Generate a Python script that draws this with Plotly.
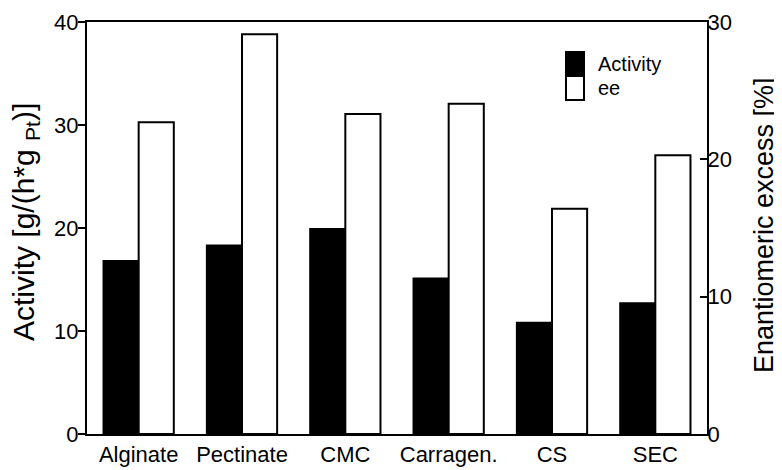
import plotly.graph_objects as go

categories = ["Alginate", "Pectinate", "CMC", "Carragen.", "CS", "SEC"]
activity = [16.8, 18.3, 19.9, 15.1, 10.8, 12.7]
ee = [22.7, 29.1, 23.3, 24.05, 16.4, 20.3]
left_ticks = [0, 10, 20, 30, 40]
right_ticks = [0, 10, 20, 30]
legend_names = ["Activity", "ee"]

FONT = "Liberation Sans, Arial, sans-serif"

# The page body has an 8px default margin, so the figure is sized to end at
# the window edge and positions below are given in window pixels.
OFF = 8
W, H = 782 - OFF, 470 - OFF
L, R, T, B = 87 - OFF, 75, 22 - OFF, 36
PW, PH = W - L - R, H - T - B

fig = go.Figure()
fig.add_trace(go.Bar(
    x=categories, y=activity, name=legend_names[0], offsetgroup="a",
    marker=dict(color="black", line=dict(color="black", width=2)),
    yaxis="y",
))
fig.add_trace(go.Bar(
    x=categories, y=ee, name=legend_names[1], offsetgroup="b",
    marker=dict(color="white", line=dict(color="black", width=2)),
    yaxis="y2",
))


def px(xw):
    return (xw - OFF - L) / PW


def py(yw):
    return (OFF + H - B - yw) / PH


shapes = [
    dict(type="rect", xref="paper", yref="paper",
         x0=px(566), x1=px(584), y0=py(76), y1=py(52),
         fillcolor="black", line=dict(color="black", width=2)),
    dict(type="rect", xref="paper", yref="paper",
         x0=px(566), x1=px(584), y0=py(100), y1=py(76),
         fillcolor="white", line=dict(color="black", width=2)),
]

annotations = [
    dict(text="Activity [g/(h*g <sub>Pt</sub>)]", textangle=-90,
         xref="paper", yref="paper", x=px(25), y=py(222),
         xanchor="center", yanchor="middle", showarrow=False,
         font=dict(size=30, family=FONT, color="black")),
    dict(text="Enantiomeric excess [%]", textangle=-90,
         xref="paper", yref="paper", x=px(764), y=py(225),
         xanchor="center", yanchor="middle", showarrow=False,
         font=dict(size=27, family=FONT, color="black")),
    dict(text=legend_names[0], xref="paper", yref="paper",
         x=px(596), y=py(64), xanchor="left", yanchor="middle",
         showarrow=False, font=dict(size=20, family=FONT, color="black")),
    dict(text=legend_names[1], xref="paper", yref="paper",
         x=px(596), y=py(88), xanchor="left", yanchor="middle",
         showarrow=False, font=dict(size=20, family=FONT, color="black")),
]

fig.update_layout(
    template="none",
    width=W, height=H,
    margin=dict(l=L, r=R, t=T, b=B, pad=0),
    paper_bgcolor="white", plot_bgcolor="white",
    barmode="group", bargap=0.32, bargroupgap=0,
    font=dict(family=FONT, color="black"),
    showlegend=False,
    xaxis=dict(
        showline=True, linecolor="black", linewidth=2, mirror=True,
        ticks="", showgrid=False, tickfont=dict(size=22, family=FONT),
        zeroline=False, automargin=False,
    ),
    yaxis=dict(
        range=[0, 40], tickvals=left_ticks, showline=True, linecolor="black",
        linewidth=2, ticks="outside", ticklen=7, tickwidth=2, tickcolor="black",
        showgrid=False, zeroline=False, tickfont=dict(size=22, family=FONT),
        automargin=False, ticklabelstandoff=-5,
    ),
    yaxis2=dict(
        range=[0, 30], tickvals=right_ticks, overlaying="y", side="right",
        showline=True, linecolor="black", linewidth=2, ticks="inside",
        ticklen=7, tickwidth=2, tickcolor="black", showgrid=False,
        zeroline=False, tickfont=dict(size=22, family=FONT),
        automargin=False, ticklabelstandoff=-6,
    ),
    shapes=shapes,
    annotations=annotations,
)

fig.write_html("out.html")
